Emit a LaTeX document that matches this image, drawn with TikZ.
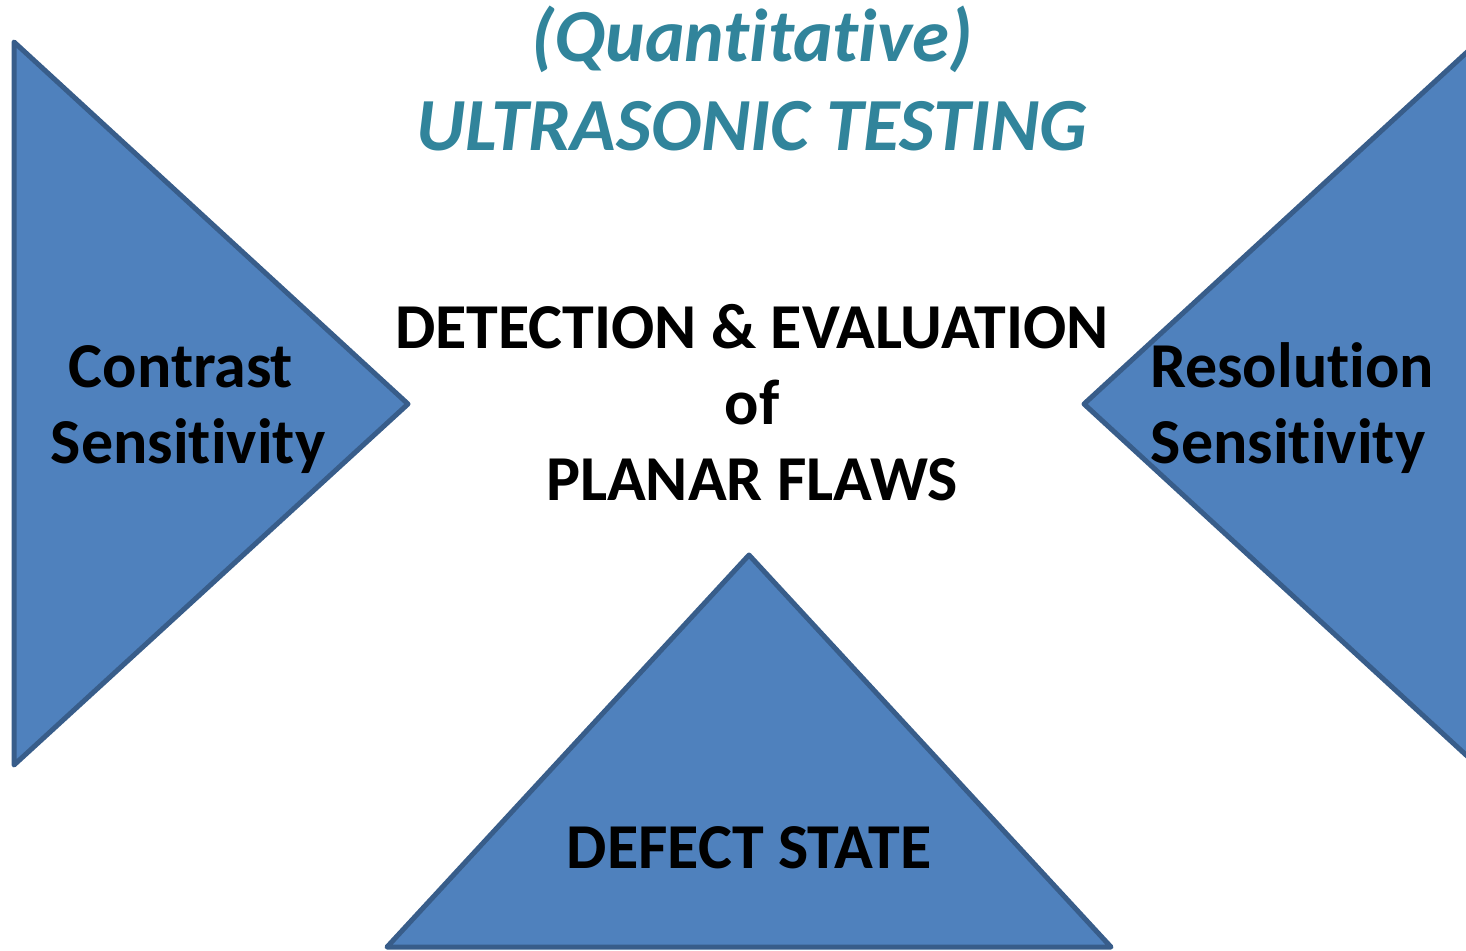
\documentclass[tikz,border=0pt]{standalone}
\usepackage{fontspec}
\setmainfont{Carlito}[RawFeature={-liga;-clig;-dlig}]
\definecolor{tfill}{HTML}{4F81BD}
\definecolor{tline}{HTML}{385D8A}
\definecolor{titlecol}{HTML}{31849B}
\newcommand{\tI}{t\kern0pt i}
\begin{document}
\begin{tikzpicture}[x=1pt,y=-1pt,
  tri/.style={fill=tfill,draw=tline,line width=5pt,line join=round},
  title/.style={text=titlecol,font=\fontsize{75}{90}\selectfont\bfseries\itshape,anchor=base},
  lbl/.style={font=\fontsize{64}{76}\selectfont\bfseries,anchor=base,inner sep=0pt}]
\useasboundingbox (0,0) rectangle (1466,950);
\begin{scope}
\clip (0,0) rectangle (1466,950);
% left, right and bottom triangles
\draw[tri] (14,42) -- (408,404) -- (14,765) -- cycle;
\draw[tri] (1478,42) -- (1084,404) -- (1478,766) -- cycle;
\draw[tri] (749,555) -- (1111,947) -- (387,947) -- cycle;
\end{scope}
% heading
\node[title] (t1) at (752,62) {(Quan\tI ta\tI ve)};
\node[title] (t2) at (752,150) {ULTRASONIC TESTING};
% centre text
\node[lbl] (c1) at (752,348) {DETECTION \& EVALUATION};
\node[lbl] (c2) at (752,424) {of};
\node[lbl] (c3) at (752,500) {PLANAR FLAWS};
% triangle labels
\node[lbl] (l1) at (181,387) {Contrast};
\node[lbl] (l2) at (188,463) {Sensi\tI vity};
\node[lbl] (r1) at (1292,387) {Resolu\tI on};
\node[lbl] (r2) at (1288,463) {Sensi\tI vity};
\node[lbl] (b1) at (749,868) {DEFECT STATE};
\end{tikzpicture}
\end{document}
